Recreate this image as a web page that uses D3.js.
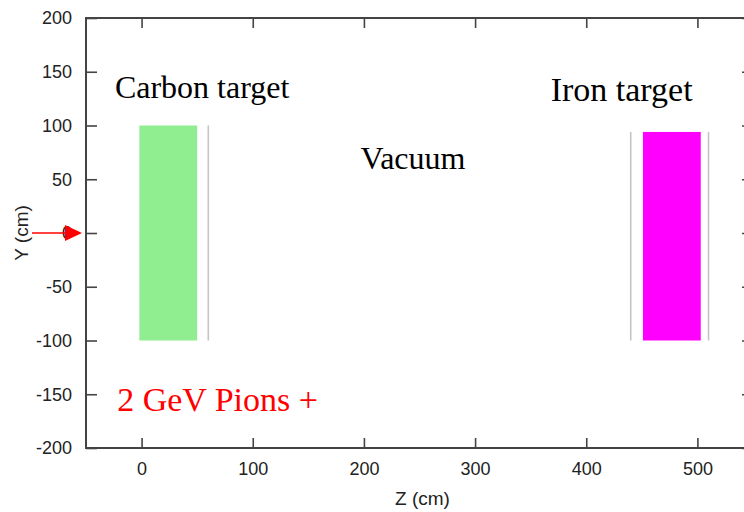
<!DOCTYPE html>
<html>
<head>
<meta charset="utf-8">
<script src="https://cdn.jsdelivr.net/npm/d3@7"></script>
<style>
  body { margin: 0; background: #fff; }
  svg { display: block; }
</style>
</head>
<body>
<svg width="744" height="512"></svg>
<script>
// datos de la figura
var zTicks = [0, 100, 200, 300, 400, 500];
var yTicks = [-200, -150, -100, -50, 0, 50, 100, 150, 200];

// blancos: nombre, z inicio, z fin, y arriba, y abajo, color
var targetNames = ["Carbon", "Iron"];
var targetZ0 = [-2, 451];
var targetZ1 = [50, 503];
var targetYTop = [100, 94];
var targetYBot = [-100, -100];
var targetColors = ["#90ee90", "#ff00ff"];

// ventanas (lineas grises)
var windowZ = [60, 440, 510];
var windowYTop = [100, 94, 94];
var windowYBot = [-100, -100, -100];

var svg = d3.select("svg"),
  width = +svg.attr("width"),
  height = +svg.attr("height");

var x = d3.scaleLinear().domain([-50, 550]).range([86, 753]),
  y = d3.scaleLinear().domain([-200, 200]).range([448, 18]);

var axisColor = "#444";
var tickFont = "'Liberation Sans', Arial, sans-serif";
var serif = "'Liberation Serif', 'Times New Roman', serif";
var fmt = function(d) { return String(d); }; // guion normal, no signo menos

// blancos
svg.selectAll("rect.target")
  .data(targetNames)
  .enter().append("rect")
  .attr("class", "target")
  .attr("x", function(d, i) { return x(targetZ0[i]); })
  .attr("y", function(d, i) { return y(targetYTop[i]); })
  .attr("width", function(d, i) { return x(targetZ1[i]) - x(targetZ0[i]); })
  .attr("height", function(d, i) { return y(targetYBot[i]) - y(targetYTop[i]); })
  .attr("fill", function(d, i) { return targetColors[i]; });

svg.selectAll("line.window")
  .data(windowZ)
  .enter().append("line")
  .attr("class", "window")
  .attr("x1", function(d) { return x(d); })
  .attr("x2", function(d) { return x(d); })
  .attr("y1", function(d, i) { return y(windowYTop[i]); })
  .attr("y2", function(d, i) { return y(windowYBot[i]); })
  .attr("stroke", "#c4c4c4")
  .attr("stroke-width", 1.6);

// ejes
function styleAxis(g) {
  g.select(".domain").remove();
  g.selectAll(".tick line").attr("stroke", axisColor).attr("stroke-width", 1.6);
  g.selectAll(".tick text").attr("fill", "#222").attr("font-family", tickFont).attr("font-size", 18);
}

svg.append("g")
  .attr("transform", "translate(0," + y(-200) + ")")
  .call(d3.axisBottom(x).tickValues(zTicks).tickSize(-10).tickPadding(14).tickFormat(fmt))
  .call(styleAxis);

svg.append("g")
  .attr("transform", "translate(0," + y(200) + ")")
  .call(d3.axisTop(x).tickValues(zTicks).tickSize(-10).tickFormat(""))
  .call(styleAxis);

svg.append("g")
  .attr("transform", "translate(" + x(-50) + ",0)")
  .call(d3.axisLeft(y).tickValues(yTicks).tickSize(-11).tickPadding(14).tickFormat(fmt))
  .call(styleAxis);

svg.append("g")
  .attr("transform", "translate(" + x(550) + ",0)")
  .call(d3.axisRight(y).tickValues(yTicks).tickSize(-11).tickFormat(""))
  .call(styleAxis);

// marco
svg.append("rect")
  .attr("x", x(-50))
  .attr("y", y(200))
  .attr("width", x(550) - x(-50))
  .attr("height", y(-200) - y(200))
  .attr("fill", "none")
  .attr("stroke", axisColor)
  .attr("stroke-width", 2);

// titulos de ejes
svg.append("text")
  .attr("x", x(250) + 3)
  .attr("y", 505)
  .attr("text-anchor", "middle")
  .attr("font-family", tickFont)
  .attr("font-size", 19)
  .attr("fill", "#222")
  .text("Z (cm)");

svg.append("text")
  .attr("transform", "translate(28," + y(0) + ") rotate(-90)")
  .attr("text-anchor", "middle")
  .attr("font-family", tickFont)
  .attr("font-size", 19)
  .attr("fill", "#222")
  .text("Y (cm)");

// flecha del haz
svg.append("line")
  .attr("x1", 32).attr("x2", 68)
  .attr("y1", y(0)).attr("y2", y(0))
  .attr("stroke", "#ff0000")
  .attr("stroke-width", 1.6);

svg.append("path")
  .attr("d", "M65," + (y(0) - 8) + "L82," + y(0) + "L65," + (y(0) + 8) + "Z")
  .attr("fill", "#ff0000");

// anotaciones
var notes = [
  { t: "Carbon target", z: -24, yv: 126, c: "#000", s: 32 },
  { t: "Iron target", z: 368, yv: 123, c: "#000", s: 34 },
  { t: "Vacuum", z: 197, yv: 60, c: "#000", s: 32 },
  { t: "2 GeV Pions +", z: -22, yv: -166, c: "#ff0000", s: 34 }
];

svg.selectAll("text.note")
  .data(notes)
  .enter().append("text")
  .attr("class", "note")
  .attr("x", function(d) { return x(d.z); })
  .attr("y", function(d) { return y(d.yv); })
  .attr("font-family", serif)
  .attr("font-size", function(d) { return d.s; })
  .attr("fill", function(d) { return d.c; })
  .text(function(d) { return d.t; });
</script>
</body>
</html>
